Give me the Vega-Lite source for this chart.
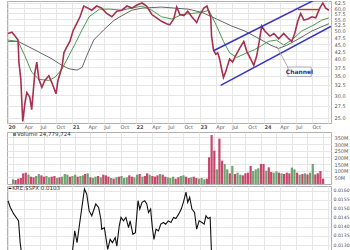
{
  "$schema": "https://vega.github.io/schema/vega-lite/v6.json",
  "padding": {"left": 5, "right": 0, "top": 0, "bottom": 0},
  "background": "white",
  "spacing": 0,
  "config": {
    "view": {"stroke": "#b0b0b0"},
    "axis": {"gridColor": "#e6e6e6", "labelFont": "DejaVu Sans", "labelFontSize": 5.5, "labelColor": "#555", "ticks": false, "domain": false}
  },
  "datasets": {
    "price": [
      {"d":"2020-01-01","p":49},{"d":"2020-01-23","p":49.5},{"d":"2020-02-10","p":48},{"d":"2020-02-27","p":46.5},
      {"d":"2020-03-03","p":39},{"d":"2020-03-14","p":34},{"d":"2020-03-19","p":29},{"d":"2020-03-25","p":24.3},
      {"d":"2020-04-06","p":28},{"d":"2020-04-17","p":30.6},{"d":"2020-05-04","p":29.5},{"d":"2020-05-15","p":26.7},
      {"d":"2020-06-02","p":35.8},{"d":"2020-06-13","p":39},{"d":"2020-06-25","p":34},{"d":"2020-07-12","p":31.9},
      {"d":"2020-07-29","p":33.7},{"d":"2020-08-21","p":35},{"d":"2020-09-08","p":33},{"d":"2020-10-01","p":30.3},
      {"d":"2020-10-12","p":33.7},{"d":"2020-11-04","p":37.5},{"d":"2020-11-15","p":42},{"d":"2020-11-27","p":43.5},
      {"d":"2020-12-19","p":46},{"d":"2021-01-06","p":50},{"d":"2021-01-23","p":52.5},{"d":"2021-02-15","p":56},
      {"d":"2021-03-08","p":61},{"d":"2021-04-01","p":60},{"d":"2021-04-23","p":59},{"d":"2021-05-21","p":61},
      {"d":"2021-06-19","p":60},{"d":"2021-07-17","p":57.5},{"d":"2021-08-16","p":56},{"d":"2021-09-13","p":58.5},
      {"d":"2021-10-12","p":59},{"d":"2021-11-10","p":61},{"d":"2021-12-08","p":60},{"d":"2022-01-06","p":61.5},
      {"d":"2022-02-04","p":62.5},{"d":"2022-03-02","p":61},{"d":"2022-04-01","p":57},{"d":"2022-04-28","p":55.5},
      {"d":"2022-05-26","p":54},{"d":"2022-06-24","p":53},{"d":"2022-07-12","p":52.5},{"d":"2022-08-04","p":55},
      {"d":"2022-08-21","p":60.5},{"d":"2022-09-08","p":57},{"d":"2022-10-01","p":56.5},{"d":"2022-10-23","p":58.5},
      {"d":"2022-11-15","p":56},{"d":"2022-12-13","p":53.5},{"d":"2023-01-01","p":57},{"d":"2023-01-23","p":60},
      {"d":"2023-02-10","p":61},{"d":"2023-02-21","p":58},{"d":"2023-03-03","p":56},{"d":"2023-03-08","p":48},
      {"d":"2023-03-19","p":43},{"d":"2023-04-01","p":41.5},{"d":"2023-04-12","p":42},{"d":"2023-04-23","p":40},
      {"d":"2023-05-04","p":37},{"d":"2023-05-15","p":34.5},{"d":"2023-05-27","p":36},{"d":"2023-06-08","p":38},
      {"d":"2023-06-19","p":40},{"d":"2023-07-06","p":39},{"d":"2023-07-23","p":41},{"d":"2023-08-15","p":43.5},
      {"d":"2023-09-08","p":46},{"d":"2023-09-25","p":42.5},{"d":"2023-10-17","p":40},{"d":"2023-11-04","p":38},
      {"d":"2023-11-21","p":41},{"d":"2023-12-08","p":47},{"d":"2023-12-19","p":52},{"d":"2024-01-06","p":50},
      {"d":"2024-02-04","p":48},{"d":"2024-02-27","p":49},{"d":"2024-03-25","p":47},{"d":"2024-04-23","p":49},
      {"d":"2024-05-21","p":47},{"d":"2024-06-08","p":46},{"d":"2024-06-25","p":49},{"d":"2024-07-12","p":54},
      {"d":"2024-07-29","p":57.5},{"d":"2024-08-16","p":54.5},{"d":"2024-09-08","p":55},{"d":"2024-10-01","p":56},
      {"d":"2024-10-23","p":55.5},{"d":"2024-11-15","p":60},{"d":"2024-12-02","p":62.5},{"d":"2024-12-19","p":60},
      {"d":"2025-01-06","p":59}
    ],
    "ma50": [
      {"d":"2020-01-01","p":46.5},{"d":"2020-02-27","p":46},{"d":"2020-04-06","p":41},{"d":"2020-05-15","p":36},
      {"d":"2020-06-25","p":34},{"d":"2020-08-21","p":33.7},{"d":"2020-09-26","p":34.6},{"d":"2020-11-04","p":36.9},
      {"d":"2020-12-13","p":41},{"d":"2021-01-17","p":45},{"d":"2021-02-27","p":50.5},{"d":"2021-04-08","p":56},
      {"d":"2021-06-06","p":59.5},{"d":"2021-08-04","p":59.5},{"d":"2021-10-12","p":59},{"d":"2021-12-08","p":60},
      {"d":"2022-02-04","p":61},{"d":"2022-04-01","p":59},{"d":"2022-05-26","p":56},{"d":"2022-07-24","p":55},
      {"d":"2022-09-19","p":57},{"d":"2022-11-15","p":57.5},{"d":"2023-01-12","p":58},{"d":"2023-02-21","p":59},
      {"d":"2023-04-06","p":52},{"d":"2023-05-15","p":46},{"d":"2023-06-19","p":42},{"d":"2023-07-30","p":40.5},
      {"d":"2023-09-25","p":42},{"d":"2023-11-07","p":43},{"d":"2023-12-19","p":44.5},{"d":"2024-01-26","p":46},
      {"d":"2024-03-12","p":46.5},{"d":"2024-04-23","p":44.7},{"d":"2024-06-08","p":46.5},{"d":"2024-08-04","p":50},
      {"d":"2024-10-01","p":52},{"d":"2024-11-26","p":54.5},{"d":"2025-01-06","p":55.5}
    ],
    "ma200": [
      {"d":"2020-01-01","p":46},{"d":"2020-02-27","p":46},{"d":"2020-06-02","p":43},{"d":"2020-09-08","p":40},
      {"d":"2020-11-04","p":38},{"d":"2020-12-13","p":37},{"d":"2021-01-29","p":36.6},{"d":"2021-02-27","p":37.4},
      {"d":"2021-03-25","p":41},{"d":"2021-05-04","p":46.5},{"d":"2021-07-01","p":50.5},{"d":"2021-08-28","p":54.4},
      {"d":"2021-10-12","p":56.5},{"d":"2021-12-08","p":59},{"d":"2022-02-04","p":60},{"d":"2022-05-26","p":60.5},
      {"d":"2022-10-26","p":59.5},{"d":"2023-01-12","p":58},{"d":"2023-04-06","p":55},{"d":"2023-07-01","p":52},
      {"d":"2023-09-13","p":50},{"d":"2023-11-27","p":47.3},{"d":"2024-02-10","p":44.6},{"d":"2024-03-25","p":43.5},
      {"d":"2024-05-10","p":44.6},{"d":"2024-07-05","p":46.5},{"d":"2024-10-01","p":50},{"d":"2025-01-06","p":53}
    ],
    "channel": [
      {"g":"u","d":"2023-03-19","p":42.7},{"g":"u","d":"2024-11-26","p":65.9},
      {"g":"l","d":"2023-04-29","p":32.4},{"g":"l","d":"2025-01-17","p":51.8}
    ],
    "resist": [{"d":"2024-07-12","p":59.3},{"d":"2024-11-15","p":59.3}],
    "callout": [{"d":"2024-03-12","p":44.4},{"d":"2024-05-20","p":37.1}],
    "label": [{"d":"2024-05-17","d2":"2024-09-27","p":37.5,"p2":34.8,"t":"Channel","dm":"2024-07-22","pm":36.1}],
    "vol": [
      {"d":"2020-01-01","v":35,"u":"g"},{"d":"2020-01-16","v":30,"u":"r"},{"d":"2020-02-01","v":40,"u":"r"},{"d":"2020-02-16","v":45,"u":"r"},
      {"d":"2020-03-01","v":80,"u":"r"},{"d":"2020-03-16","v":85,"u":"r"},{"d":"2020-04-01","v":70,"u":"g"},{"d":"2020-04-16","v":55,"u":"r"},
      {"d":"2020-05-01","v":50,"u":"r"},{"d":"2020-05-16","v":60,"u":"g"},{"d":"2020-06-01","v":75,"u":"g"},{"d":"2020-06-16","v":65,"u":"r"},
      {"d":"2020-07-01","v":55,"u":"r"},{"d":"2020-07-16","v":60,"u":"g"},{"d":"2020-08-01","v":50,"u":"g"},{"d":"2020-08-16","v":55,"u":"r"},
      {"d":"2020-09-01","v":60,"u":"r"},{"d":"2020-09-16","v":45,"u":"g"},{"d":"2020-10-01","v":50,"u":"r"},{"d":"2020-10-16","v":55,"u":"g"},
      {"d":"2020-11-01","v":75,"u":"g"},{"d":"2020-11-16","v":70,"u":"g"},{"d":"2020-12-01","v":55,"u":"r"},{"d":"2020-12-16","v":60,"u":"g"},
      {"d":"2021-01-01","v":70,"u":"g"},{"d":"2021-01-16","v":55,"u":"r"},{"d":"2021-02-01","v":60,"u":"g"},{"d":"2021-02-16","v":65,"u":"g"},
      {"d":"2021-03-01","v":75,"u":"r"},{"d":"2021-03-16","v":80,"u":"g"},{"d":"2021-04-01","v":50,"u":"r"},{"d":"2021-04-16","v":45,"u":"g"},
      {"d":"2021-05-01","v":55,"u":"g"},{"d":"2021-05-16","v":60,"u":"r"},{"d":"2021-06-01","v":50,"u":"g"},{"d":"2021-06-16","v":70,"u":"r"},
      {"d":"2021-07-01","v":65,"u":"r"},{"d":"2021-07-16","v":55,"u":"r"},{"d":"2021-08-01","v":45,"u":"g"},{"d":"2021-08-16","v":40,"u":"r"},
      {"d":"2021-09-01","v":50,"u":"g"},{"d":"2021-09-16","v":55,"u":"r"},{"d":"2021-10-01","v":60,"u":"g"},{"d":"2021-10-16","v":45,"u":"g"},
      {"d":"2021-11-01","v":50,"u":"g"},{"d":"2021-11-16","v":65,"u":"r"},{"d":"2021-12-01","v":55,"u":"r"},{"d":"2021-12-16","v":50,"u":"g"},
      {"d":"2022-01-01","v":70,"u":"g"},{"d":"2022-01-16","v":75,"u":"r"},{"d":"2022-02-01","v":55,"u":"g"},{"d":"2022-02-16","v":60,"u":"r"},
      {"d":"2022-03-01","v":80,"u":"r"},{"d":"2022-03-16","v":70,"u":"g"},{"d":"2022-04-01","v":60,"u":"r"},{"d":"2022-04-16","v":55,"u":"r"},
      {"d":"2022-05-01","v":65,"u":"r"},{"d":"2022-05-16","v":75,"u":"g"},{"d":"2022-06-01","v":70,"u":"r"},{"d":"2022-06-16","v":55,"u":"r"},
      {"d":"2022-07-01","v":50,"u":"g"},{"d":"2022-07-16","v":45,"u":"g"},{"d":"2022-08-01","v":55,"u":"g"},{"d":"2022-08-16","v":40,"u":"r"},
      {"d":"2022-09-01","v":50,"u":"r"},{"d":"2022-09-16","v":60,"u":"g"},{"d":"2022-10-01","v":65,"u":"g"},{"d":"2022-10-16","v":55,"u":"r"},
      {"d":"2022-11-01","v":45,"u":"r"},{"d":"2022-11-16","v":50,"u":"g"},{"d":"2022-12-01","v":55,"u":"r"},{"d":"2022-12-16","v":45,"u":"r"},
      {"d":"2023-01-01","v":40,"u":"g"},{"d":"2023-01-16","v":45,"u":"g"},{"d":"2023-02-01","v":35,"u":"g"},{"d":"2023-02-16","v":40,"u":"r"},
      {"d":"2023-03-01","v":200,"u":"r"},{"d":"2023-03-16","v":367,"u":"r"},{"d":"2023-04-01","v":250,"u":"r"},{"d":"2023-04-16","v":110,"u":"g"},
      {"d":"2023-05-01","v":340,"u":"r"},{"d":"2023-05-16","v":175,"u":"r"},{"d":"2023-06-01","v":150,"u":"g"},{"d":"2023-06-16","v":110,"u":"g"},
      {"d":"2023-07-01","v":80,"u":"r"},{"d":"2023-07-16","v":136,"u":"g"},{"d":"2023-08-01","v":75,"u":"r"},{"d":"2023-08-16","v":85,"u":"g"},
      {"d":"2023-09-01","v":70,"u":"g"},{"d":"2023-09-16","v":65,"u":"r"},{"d":"2023-10-01","v":80,"u":"r"},{"d":"2023-10-16","v":85,"u":"r"},
      {"d":"2023-11-01","v":136,"u":"r"},{"d":"2023-11-16","v":97,"u":"g"},{"d":"2023-12-01","v":110,"u":"g"},{"d":"2023-12-16","v":118,"u":"g"},
      {"d":"2024-01-01","v":150,"u":"r"},{"d":"2024-01-16","v":150,"u":"r"},{"d":"2024-02-01","v":100,"u":"g"},{"d":"2024-02-16","v":125,"u":"r"},
      {"d":"2024-03-01","v":90,"u":"r"},{"d":"2024-03-16","v":85,"u":"g"},{"d":"2024-04-01","v":95,"u":"g"},{"d":"2024-04-16","v":85,"u":"r"},
      {"d":"2024-05-01","v":80,"u":"g"},{"d":"2024-05-16","v":75,"u":"r"},{"d":"2024-06-01","v":85,"u":"r"},{"d":"2024-06-16","v":80,"u":"r"},
      {"d":"2024-07-01","v":123,"u":"g"},{"d":"2024-07-16","v":110,"u":"g"},{"d":"2024-08-01","v":85,"u":"r"},{"d":"2024-08-16","v":70,"u":"g"},
      {"d":"2024-09-01","v":75,"u":"r"},{"d":"2024-09-16","v":80,"u":"g"},{"d":"2024-10-01","v":72,"u":"r"},{"d":"2024-10-16","v":85,"u":"g"},
      {"d":"2024-11-01","v":150,"u":"g"},{"d":"2024-11-16","v":72,"u":"r"},{"d":"2024-12-01","v":80,"u":"r"},{"d":"2024-12-16","v":97,"u":"r"},
      {"d":"2025-01-01","v":40,"u":"r"}
    ],
    "ratio": [
      {"d":"2020-01-01","r":0.01544},{"d":"2020-01-14","r":0.01507},{"d":"2020-02-03","r":0.01470},{"d":"2020-02-21","r":0.01446},
      {"d":"2020-03-01","r":0.01433},{"d":"2020-03-10","r":0.01313},{"d":"2020-04-01","r":0.0115},{"d":"2020-07-12","r":0.0110},
      {"d":"2020-11-04","r":0.0115},{"d":"2020-12-19","r":0.0120},{"d":"2021-01-01","r":0.01248},{"d":"2021-01-16","r":0.01378},
      {"d":"2021-01-29","r":0.01313},{"d":"2021-02-11","r":0.01406},{"d":"2021-02-27","r":0.01517},{"d":"2021-03-12","r":0.01609},
      {"d":"2021-03-25","r":0.01581},{"d":"2021-04-08","r":0.01489},{"d":"2021-04-23","r":0.01461},{"d":"2021-05-16","r":0.01526},
      {"d":"2021-06-01","r":0.01507},{"d":"2021-06-14","r":0.01442},{"d":"2021-06-19","r":0.01387},{"d":"2021-07-04","r":0.01396},
      {"d":"2021-07-23","r":0.01276},{"d":"2021-08-06","r":0.01331},{"d":"2021-08-19","r":0.01313},{"d":"2021-09-04","r":0.01341},
      {"d":"2021-09-13","r":0.01294},{"d":"2021-09-27","r":0.01406},{"d":"2021-10-07","r":0.01452},{"d":"2021-10-21","r":0.01433},
      {"d":"2021-11-04","r":0.01452},{"d":"2021-11-19","r":0.01396},{"d":"2021-11-28","r":0.01433},{"d":"2021-12-14","r":0.01359},
      {"d":"2021-12-28","r":0.01368},{"d":"2022-01-12","r":0.01544},{"d":"2022-01-22","r":0.01498},{"d":"2022-02-04","r":0.01535},
      {"d":"2022-02-19","r":0.01544},{"d":"2022-03-03","r":0.01526},{"d":"2022-03-13","r":0.01479},{"d":"2022-03-25","r":0.01498},
      {"d":"2022-04-04","r":0.01396},{"d":"2022-04-13","r":0.01331},{"d":"2022-04-25","r":0.01387},{"d":"2022-05-09","r":0.01378},
      {"d":"2022-05-22","r":0.01415},{"d":"2022-06-06","r":0.01424},{"d":"2022-06-19","r":0.01415},{"d":"2022-07-04","r":0.01433},
      {"d":"2022-07-19","r":0.01424},{"d":"2022-08-03","r":0.01452},{"d":"2022-08-16","r":0.01446},{"d":"2022-09-01","r":0.01470},
      {"d":"2022-09-16","r":0.01498},{"d":"2022-09-28","r":0.01535},{"d":"2022-10-13","r":0.01591},{"d":"2022-10-23","r":0.01535},
      {"d":"2022-11-03","r":0.01563},{"d":"2022-11-16","r":0.01498},{"d":"2022-12-01","r":0.01479},{"d":"2022-12-13","r":0.01387},
      {"d":"2022-12-27","r":0.01433},{"d":"2023-01-12","r":0.01424},{"d":"2023-01-25","r":0.01415},{"d":"2023-02-04","r":0.01461},
      {"d":"2023-02-16","r":0.01446},{"d":"2023-02-28","r":0.01452},{"d":"2023-03-08","r":0.01248},{"d":"2023-03-25","r":0.0118},
      {"d":"2023-08-28","r":0.0110},{"d":"2024-04-12","r":0.0112},{"d":"2025-01-18","r":0.0112}
    ],
    "vhead": [{"d":"2020-01-25","v":372,"t":"Volume 24,779,724"}],
    "vicon": [{"d":"2020-01-10","v":372}],
    "rhead": [{"d":"2020-01-25","r":0.01612,"t":"KRE:$SPX 0.0103"}],
    "ricon": [{"d":"2020-01-04","r":0.01612},{"d":"2020-01-20","r":0.01612}]
  },
  "vconcat": [
    {
      "width": 324,
      "height": 122,
      "encoding": {
        "x": {"field": "d", "type": "temporal", "title": null,
          "scale": {"domain": [{"year": 2019, "month": 12, "date": 26}, {"year": 2025, "month": 1, "date": 18}]},
          "axis": {"orient": "bottom", "tickCount": {"interval": "month", "step": 3}, "labelExpr": "year(datum.value) >= 2025 ? '' : (month(datum.value)==0 ? timeFormat(datum.value,'%y') : timeFormat(datum.value,'%b'))",
            "labelFontWeight": {"condition": {"test": "month(datum.value)==0", "value": "bold"}, "value": "normal"},
            "labelAlign": "left", "labelPadding": 1, "labelFontSize": 5, "minExtent": 7, "maxExtent": 7, "labelOverlap": false, "labelFlush": false}},
        "y": {"field": "p", "type": "quantitative", "title": null,
          "scale": {"type": "log", "domain": [24, 63.5]},
          "axis": {"orient": "right", "values": [25, 27.5, 30, 32.5, 35, 37.5, 40, 42.5, 45, 47.5, 50, 52.5, 55, 57.5, 60, 62.5], "format": ".1f", "labelPadding": 3, "minExtent": 21, "maxExtent": 21, "labelFontSize": 5}}
      },
      "layer": [
        {"data": {"name": "ma200"}, "mark": {"type": "line", "color": "#666666", "strokeWidth": 1, "clip": true}},
        {"data": {"name": "ma50"}, "mark": {"type": "line", "color": "#4a9a4a", "strokeWidth": 1, "clip": true}},
        {"data": {"name": "price"}, "mark": {"type": "line", "color": "#a8304e", "strokeWidth": 1.6, "clip": true}},
        {"data": {"name": "channel"}, "mark": {"type": "line", "color": "#3535c0", "strokeWidth": 1.5, "clip": true}, "encoding": {"detail": {"field": "g"}}},
        {"data": {"name": "resist"}, "mark": {"type": "line", "color": "#d83030", "strokeWidth": 1.3, "clip": true}},
        {"data": {"name": "callout"}, "mark": {"type": "line", "color": "#9a9a9a", "strokeWidth": 0.8, "clip": true}},
        {"data": {"name": "label"}, "mark": {"type": "rect", "fill": "white", "stroke": "#8888aa", "strokeWidth": 0.7},
          "encoding": {"x2": {"field": "d2"}, "y2": {"field": "p2"}}},
        {"data": {"name": "label"}, "mark": {"type": "text", "font": "DejaVu Sans", "fontSize": 6, "fontWeight": "bold", "color": "#333388", "align": "center", "baseline": "middle"},
          "encoding": {"x": {"field": "dm", "type": "temporal"}, "y": {"field": "pm", "type": "quantitative"}, "text": {"field": "t"}}}
      ]
    },
    {
      "width": 324,
      "height": 52,
      "encoding": {
        "x": {"field": "d", "type": "temporal", "title": null,
          "scale": {"domain": [{"year": 2019, "month": 12, "date": 26}, {"year": 2025, "month": 1, "date": 18}]},
          "axis": {"orient": "bottom", "tickCount": {"interval": "month", "step": 3}, "labels": false, "minExtent": 0, "maxExtent": 0}},
        "y": {"field": "v", "type": "quantitative", "title": null,
          "scale": {"domain": [0, 390]},
          "axis": {"orient": "right", "values": [50, 100, 150, 200, 250, 300, 350], "labelExpr": "datum.value + 'M'", "labelPadding": 3, "minExtent": 21, "maxExtent": 21, "labelFontSize": 5}}
      },
      "layer": [
        {"data": {"name": "vol"}, "mark": {"type": "bar", "width": 2.2, "opacity": 0.9},
          "encoding": {"color": {"field": "u", "type": "nominal", "scale": {"domain": ["r", "g"], "range": ["#c4325c", "#5f9a62"]}, "legend": null}}},
        {"data": {"name": "vicon"}, "mark": {"type": "square", "size": 10, "color": "#5f9a62", "opacity": 1}},
        {"data": {"name": "vhead"}, "mark": {"type": "text", "font": "DejaVu Sans", "fontSize": 5.5, "color": "#333", "align": "left", "baseline": "middle"},
          "encoding": {"text": {"field": "t"}}}
      ]
    },
    {
      "width": 324,
      "height": 69,
      "encoding": {
        "x": {"field": "d", "type": "temporal", "title": null,
          "scale": {"domain": [{"year": 2019, "month": 12, "date": 26}, {"year": 2025, "month": 1, "date": 18}]},
          "axis": {"orient": "bottom", "tickCount": {"interval": "month", "step": 3}, "labels": false, "minExtent": 0, "maxExtent": 0}},
        "y": {"field": "r", "type": "quantitative", "title": null,
          "scale": {"domain": [0.01245, 0.01625], "zero": false},
          "axis": {"orient": "right", "values": [0.0125, 0.013, 0.0135, 0.014, 0.0145, 0.015, 0.0155, 0.016], "format": ".4f", "labelPadding": 2, "minExtent": 21, "maxExtent": 21, "labelFontSize": 4.6}}
      },
      "layer": [
        {"data": {"name": "ratio"}, "mark": {"type": "line", "color": "#111111", "strokeWidth": 1.1, "clip": true}},
        {"data": {"name": "ricon"}, "mark": {"type": "line", "color": "#111111", "strokeWidth": 1.2}},
        {"data": {"name": "rhead"}, "mark": {"type": "text", "font": "DejaVu Sans", "fontSize": 5.5, "color": "#333", "align": "left", "baseline": "middle"},
          "encoding": {"text": {"field": "t"}}}
      ]
    }
  ]
}
